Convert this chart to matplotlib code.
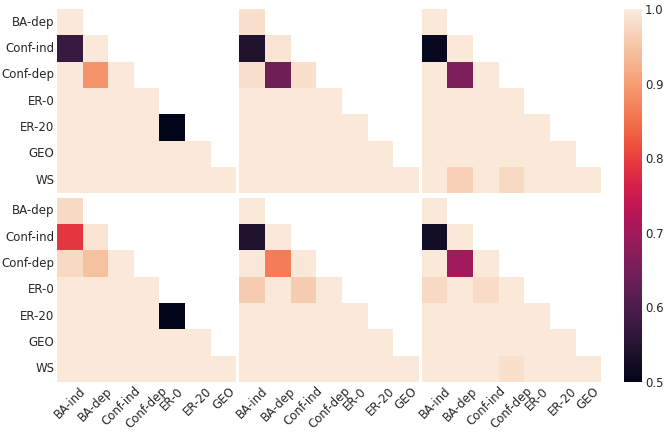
import matplotlib
matplotlib.use("Agg")
import matplotlib.pyplot as plt
import numpy as np
import seaborn as sns

sns.set_style("white")

row_labels = ["BA-dep", "Conf-ind", "Conf-dep", "ER-0", "ER-20", "GEO", "WS"]
col_labels = ["BA-ind", "BA-dep", "Conf-ind", "Conf-dep", "ER-0", "ER-20", "GEO"]

# lower triangle values, one list per row (row i has i+1 cells)
top_left = [
    [0.995],
    [0.575, 0.995],
    [0.995, 0.89, 0.995],
    [0.995, 0.995, 0.995, 0.995],
    [0.995, 0.995, 0.995, 0.995, 0.50],
    [0.995, 0.995, 0.995, 0.995, 0.995, 0.995],
    [0.995, 0.995, 0.995, 0.995, 0.995, 0.995, 0.995],
]
top_mid = [
    [0.985],
    [0.54, 0.99],
    [0.985, 0.64, 0.985],
    [0.995, 0.995, 0.995, 0.995],
    [0.995, 0.995, 0.995, 0.995, 0.995],
    [0.995, 0.995, 0.995, 0.995, 0.995, 0.995],
    [0.995, 0.995, 0.995, 0.995, 0.995, 0.995, 0.995],
]
top_right = [
    [0.995],
    [0.51, 0.995],
    [0.995, 0.66, 0.995],
    [0.995, 0.995, 0.995, 0.995],
    [0.995, 0.995, 0.995, 0.995, 0.995],
    [0.995, 0.995, 0.995, 0.995, 0.995, 0.995],
    [0.995, 0.965, 0.995, 0.975, 0.995, 0.995, 0.995],
]
bot_left = [
    [0.975],
    [0.79, 0.99],
    [0.975, 0.945, 0.995],
    [0.995, 0.995, 0.995, 0.995],
    [0.995, 0.995, 0.995, 0.995, 0.50],
    [0.995, 0.995, 0.995, 0.995, 0.995, 0.995],
    [0.995, 0.995, 0.995, 0.995, 0.995, 0.995, 0.995],
]
bot_mid = [
    [0.995],
    [0.54, 0.995],
    [0.995, 0.865, 0.995],
    [0.96, 0.995, 0.96, 0.995],
    [0.995, 0.995, 0.995, 0.995, 0.995],
    [0.995, 0.995, 0.995, 0.995, 0.995, 0.995],
    [0.995, 0.995, 0.995, 0.995, 0.995, 0.995, 0.995],
]
bot_right = [
    [0.995],
    [0.525, 0.995],
    [0.995, 0.70, 0.995],
    [0.975, 0.995, 0.98, 0.995],
    [0.995, 0.995, 0.995, 0.995, 0.995],
    [0.995, 0.995, 0.995, 0.995, 0.995, 0.995],
    [0.995, 0.995, 0.995, 0.985, 0.995, 0.995, 0.995],
]

panels = [top_left, top_mid, top_right, bot_left, bot_mid, bot_right]


def to_matrix(rows):
    m = np.full((7, 7), np.nan)
    for i, r in enumerate(rows):
        m[i, :len(r)] = r
    return m


fig, axes = plt.subplots(2, 3, figsize=(6.65, 4.32), dpi=100)
fig.subplots_adjust(left=0.0857, right=0.904, top=0.979, bottom=0.116,
                    wspace=0.017, hspace=0.022)

for k, (ax, rows) in enumerate(zip(axes.flat, panels)):
    m = to_matrix(rows)
    sns.heatmap(m, ax=ax, cmap="rocket", vmin=0.5, vmax=1.0, cbar=False,
                mask=np.isnan(m), xticklabels=col_labels, yticklabels=row_labels)
    ax.tick_params(length=0, labelsize=8.5, pad=2)
    if k % 3 == 0:
        ax.set_yticklabels(row_labels, rotation=0)
    else:
        ax.set_yticklabels([])
    if k >= 3:
        ax.set_xticklabels(col_labels, rotation=45, ha="center")
    else:
        ax.set_xticklabels([])

cax = fig.add_axes([624 / 665, 0.116, 18 / 665, 0.863])
sm = plt.cm.ScalarMappable(cmap="rocket", norm=plt.Normalize(0.5, 1.0))
cb = fig.colorbar(sm, cax=cax)
cb.outline.set_visible(False)
cb.set_ticks([0.5, 0.6, 0.7, 0.8, 0.9, 1.0])
cax.tick_params(length=0, labelsize=8.5, pad=2)

fig.savefig("out.png", dpi=100)
